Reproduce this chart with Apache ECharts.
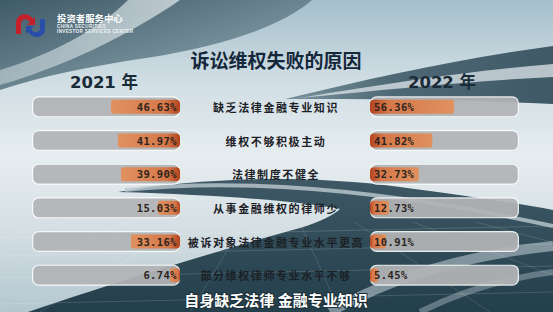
<!DOCTYPE html>
<html><head><meta charset="utf-8">
<script src="https://cdn.jsdelivr.net/npm/echarts@6/dist/echarts.min.js"></script>
<style>
html,body{margin:0;padding:0;background:#dfe7eb;overflow:hidden;}
#c{width:553px;height:312px;}
#c text[style*="11px"]{letter-spacing:1.6px;}
#c text[style*="10.5px"]{letter-spacing:0.4px;}
#c text[style*="4.6px"]{letter-spacing:0.35px;}
</style></head><body><div id="c"></div>
<script>
const titleText = '诉讼维权失败的原因';
const subtitleText = '自身缺乏法律 金融专业知识';
const yearLabels = ['2021 年', '2022 年'];
const categories = ['缺乏法律金融专业知识', '维权不够积极主动', '法律制度不健全', '从事金融维权的律师少', '被诉对象法律金融专业水平更高', '部分维权律师专业水平不够'];
const values2021 = [46.63, 41.97, 39.90, 15.03, 33.16, 6.74];
const values2022 = [56.36, 41.82, 32.73, 12.73, 10.91, 5.45];
const scaleMax = 100;
const trackValues = categories.map(() => scaleMax);

const chart = echarts.init(document.getElementById('c'), null, {renderer: 'svg', width: 553, height: 312});
const LG = echarts.graphic.LinearGradient;

let shapeCount = 0;
function svgShape(d, style, z) {
  const name = 'bgShape' + (shapeCount++);
  echarts.graphic.registerShape(name, echarts.graphic.extendPath(d, {}));
  return {type: name, z: z, shape: {}, style: style, silent: true};
}

const gridTop = 90, gridH = 202;
const grids = [
  {left: 32, top: gridTop, width: 148, height: gridH},
  {left: 32, top: gridTop, width: 148, height: gridH},
  {left: 370, top: gridTop, width: 149, height: gridH},
  {left: 370, top: gridTop, width: 149, height: gridH}
];

// background decoration
const bg = [];
bg.push({type: 'rect', z: -100, silent: true, shape: {x: 0, y: 0, width: 553, height: 312},
  style: {fill: new LG(0, 0, 0, 1, [
    {offset: 0, color: '#a4bfcb'}, {offset: 0.25, color: '#cfdde3'},
    {offset: 0.5, color: '#e6edf0'}, {offset: 0.72, color: '#d6e0e4'}, {offset: 1, color: '#b3c7d0'}])}});
bg.push(svgShape('M0,0 L312,0 C282,26 224,46 146,58 C92,66 42,76 0,90 Z',
  {fill: new LG(0, 0, 1, 1, [{offset: 0, color: '#3f5b67'}, {offset: 0.4, color: '#617c88'}, {offset: 1, color: '#9ab1bb'}])}, -99));
bg.push(svgShape('M128,0 C98,30 52,54 0,70 L0,85 C60,68 128,36 180,0 Z',
  {fill: new LG(0, 0, 1, 0, [{offset: 0, color: 'rgba(200,213,219,0.6)'}, {offset: 1, color: 'rgba(230,237,240,0.7)'}])}, -98));
bg.push(svgShape('M285,99 C372,78 462,58 553,46 L553,104 C470,100 380,99 285,99 Z',
  {fill: new LG(0, 0, 1, 0, [{offset: 0, color: '#7a939e'}, {offset: 0.4, color: '#4e6975'}, {offset: 1, color: '#3f5a66'}])}, -97));
bg.push(svgShape('M300,98 C390,83 470,71 553,64 L553,77 C470,81 392,89 300,98 Z', {fill: 'rgba(214,223,228,0.8)'}, -96));
bg.push(svgShape('M118,192 C200,178 300,174 400,187 C470,196 520,204 553,210 L553,312 L28,312 C110,284 220,250 300,228 C320,222 335,214 340,209 C300,201 220,195 118,192 Z',
  {fill: new LG(0, 0, 0, 1, [{offset: 0, color: '#3e5965'}, {offset: 1, color: '#233f4b'}])}, -95));
bg.push(svgShape('M125,190 C220,180 360,184 553,226', {fill: 'none', stroke: 'rgba(190,203,209,0.8)', lineWidth: 4}, -94));
bg.push(svgShape('M330,312 C390,278 465,255 553,246', {fill: 'none', stroke: 'rgba(165,181,189,0.7)', lineWidth: 10}, -94));
bg.push(svgShape('M420,312 C460,292 505,278 553,272', {fill: 'none', stroke: 'rgba(150,168,176,0.55)', lineWidth: 6}, -94));
// perspective floor grid
[232, 250, 272, 298].forEach(function (y) {
  bg.push({type: 'line', z: -93, silent: true, shape: {x1: 0, y1: y + 6, x2: 553, y2: y - 6},
    style: {stroke: 'rgba(255,255,255,0.18)', lineWidth: 0.8}});
});
[-300, -120, 40, 190, 340, 490, 650, 820].forEach(function (bx) {
  const vx = 276, vy = 170, y0 = 222;
  const t = (y0 - vy) / (312 - vy);
  bg.push({type: 'line', z: -93, silent: true, shape: {x1: vx + (bx - vx) * t, y1: y0, x2: bx, y2: 312},
    style: {stroke: 'rgba(255,255,255,0.16)', lineWidth: 0.8}});
});
// logo
bg.push(svgShape('M16,34 L16,23 C16,14 28,11 33,19 L35,17 L35,25 L27,25 L30,22 C27,18 21,18 21,24 L21,34 Z', {fill: '#c51f2b'}, 10));
bg.push(svgShape('M45,19 L45,29 C45,38 33,40 28,32 L26,34 L26,26 L34,26 L31,29 C34,34 40,33 40,28 L40,19 Z', {fill: '#2a4ea8'}, 10));
bg.push({type: 'text', z: 10, silent: true, style: {text: '投资者服务中心', x: 57, y: 17.5, fill: '#ffffff', font: 'bold 9.4px "Noto Sans CJK SC"', textVerticalAlign: 'middle'}});
bg.push({type: 'text', z: 10, silent: true, style: {text: 'CHINA SECURITIES', x: 57, y: 26.5, fill: '#eef2f4', font: 'bold 4.6px "Liberation Sans"', textVerticalAlign: 'middle'}});
bg.push({type: 'text', z: 10, silent: true, style: {text: 'INVESTOR SERVICES CENTER', x: 57, y: 31.5, fill: '#eef2f4', font: 'bold 4.6px "Liberation Sans"', textVerticalAlign: 'middle'}});

const trackStyle = {color: 'rgba(178,180,182,0.93)', borderColor: 'rgba(255,255,255,0.85)', borderWidth: 1.2, borderRadius: 6};
const pctLabel = {
  show: true, distance: 3,
  formatter: function (p) { return p.value.toFixed(2) + '%'; },
  fontFamily: '"DejaVu Sans Mono"', fontWeight: 'bold', fontSize: 10.5, color: '#2b2420'
};

const option = {
  animation: false,
  title: [
    {text: titleText, left: 276, top: 59.5, textAlign: 'center', textVerticalAlign: 'middle', padding: 0,
      textStyle: {fontSize: 19, fontWeight: 'bold', color: '#15273a', fontFamily: '"Noto Sans CJK SC"'}},
    {text: yearLabels[0], left: 104, top: 82, textAlign: 'center', textVerticalAlign: 'middle', padding: 0,
      textStyle: {fontSize: 16.5, fontWeight: 'bold', color: '#1a2b38', fontFamily: '"DejaVu Sans", "Noto Sans CJK SC"'}},
    {text: yearLabels[1], left: 442, top: 82, textAlign: 'center', textVerticalAlign: 'middle', padding: 0,
      textStyle: {fontSize: 16.5, fontWeight: 'bold', color: '#1a2b38', fontFamily: '"DejaVu Sans", "Noto Sans CJK SC"'}},
    {text: subtitleText, left: 276, top: 299, textAlign: 'center', textVerticalAlign: 'middle', padding: 0,
      textStyle: {fontSize: 15, fontWeight: 'bold', color: '#ffffff', fontFamily: '"Noto Sans CJK SC"',
        textBorderColor: '#1d2f38', textBorderWidth: 2}}
  ],
  grid: grids,
  xAxis: [0, 1, 2, 3].map(function (i) {
    return {type: 'value', gridIndex: i, min: 0, max: scaleMax, inverse: i < 2, show: false};
  }),
  yAxis: [0, 1, 2, 3].map(function (i) {
    return {type: 'category', gridIndex: i, data: categories, inverse: true, show: i === 2,
      axisLine: {show: false}, axisTick: {show: false}, splitLine: {show: false},
      axisLabel: {show: i === 2, interval: 0, margin: 94, align: 'center', fontSize: 11, fontWeight: 'bold',
        color: '#1c2126', fontFamily: '"Noto Sans CJK SC"'}};
  }),
  series: [
    {type: 'bar', xAxisIndex: 0, yAxisIndex: 0, data: trackValues, barWidth: 21, silent: true, itemStyle: trackStyle},
    {type: 'bar', xAxisIndex: 2, yAxisIndex: 2, data: trackValues, barWidth: 21, silent: true, itemStyle: trackStyle},
    {type: 'bar', xAxisIndex: 1, yAxisIndex: 1, data: values2021, barWidth: 14,
      itemStyle: {borderRadius: [2, 4, 4, 2], color: new LG(0, 0, 1, 0, [
        {offset: 0, color: '#e0915f'}, {offset: 0.78, color: '#d67849'}, {offset: 1, color: '#b3431c'}])},
      label: Object.assign({}, pctLabel, {position: 'insideRight'})},
    {type: 'bar', xAxisIndex: 3, yAxisIndex: 3, data: values2022, barWidth: 14,
      itemStyle: {borderRadius: [4, 2, 2, 4], color: new LG(0, 0, 1, 0, [
        {offset: 0, color: '#b3431c'}, {offset: 0.22, color: '#d67849'}, {offset: 1, color: '#e0915f'}])},
      label: Object.assign({}, pctLabel, {position: 'insideLeft', distance: 4})}
  ],
  graphic: {elements: bg}
};
chart.setOption(option);
</script></body></html>
